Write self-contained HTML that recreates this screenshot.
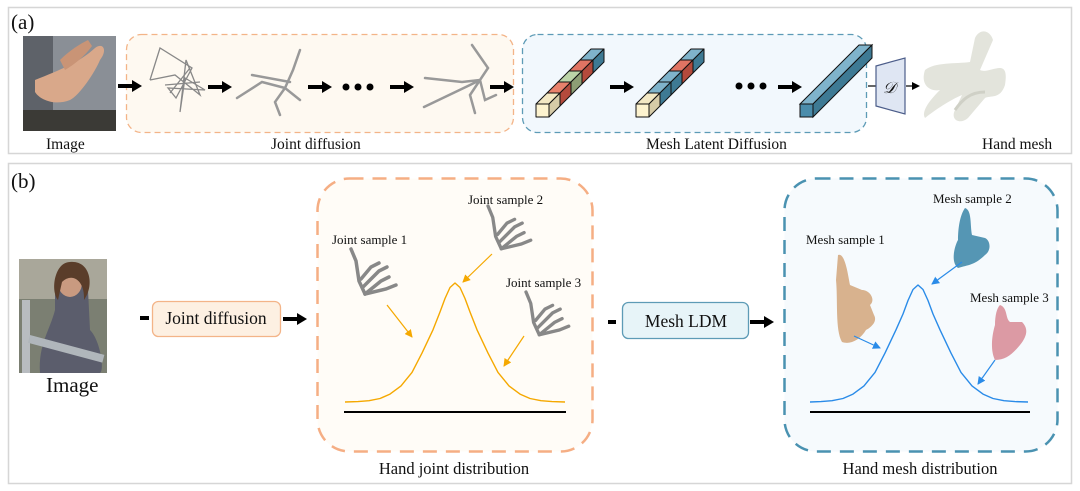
<!DOCTYPE html>
<html><head><meta charset="utf-8"><style>
html,body{margin:0;padding:0;background:#fff;}
svg{display:block;}
text{font-family:"Liberation Serif",serif;fill:#111;}
</style></head><body>
<svg width="1080" height="491" viewBox="0 0 1080 491" xmlns="http://www.w3.org/2000/svg">
<defs>
<marker id="ab" markerWidth="8" markerHeight="8" refX="6" refY="4" orient="auto" markerUnits="userSpaceOnUse"><path d="M0,0 L8,4 L0,8 z" fill="#000"/></marker>
<marker id="ao" markerWidth="8" markerHeight="8" refX="7" refY="4" orient="auto" markerUnits="userSpaceOnUse"><path d="M0,0 L8,4 L0,8 z" fill="#f5a800"/></marker>
<marker id="abl" markerWidth="8" markerHeight="8" refX="7" refY="4" orient="auto" markerUnits="userSpaceOnUse"><path d="M0,0 L8,4 L0,8 z" fill="#2a8be8"/></marker>
<g id="arr"><rect x="0" y="-2" width="16" height="4" fill="#000"/><path d="M14,-6 L24,0 L14,6 z" fill="#000"/></g>
<g id="skel" stroke="#888" stroke-width="3.5" fill="none" stroke-linecap="round">
<path d="M0,0 L5,12 L8,32 L14,45"/><path d="M14,45 L30,32 L38,28"/><path d="M14,45 L35,40 L45,36"/><path d="M12,38 L28,22 L36,18"/><path d="M10,30 L20,18 L28,14"/>
</g>
</defs>

<!-- panel a -->
<rect x="8.5" y="7.5" width="1063" height="146" fill="#fff" stroke="#d6d6d6" stroke-width="1.5"/>
<text x="11" y="29" font-size="21">(a)</text>
<rect x="23" y="36" width="93" height="95" fill="#8a8f96"/>
<rect x="23" y="36" width="30" height="95" fill="#5e6269"/>
<rect x="23" y="110" width="93" height="21" fill="#3b3a36"/>
<path d="M35,80 C60,70 80,62 95,48 C103,42 108,50 100,60 C95,72 80,95 70,100 C55,106 40,100 35,92 z" fill="#d9a88a"/>
<path d="M60,60 C70,50 80,44 88,40 L92,46 C85,56 75,64 65,70 z" fill="#c99476"/>
<text x="46" y="149" font-size="15.5">Image</text>
<rect x="126.5" y="34.5" width="387" height="98" rx="15" fill="#fef9f1" stroke="#f3b488" stroke-width="1.3" stroke-dasharray="6,4"/>
<g stroke="#888" stroke-width="1.3" fill="none">
<path d="M150,80 L160,48 L192,68 L176,98 L168,88 L205,90 L185,78 L180,112 L186,60 L200,95 L175,75 L150,80"/>
<path d="M165,85 L200,82 M170,93 L190,68"/>
</g>
<g stroke="#999" stroke-width="2.5" fill="none" stroke-linecap="round">
<path d="M237,98 L262,82 L285,88 L293,70 L300,50 M285,88 L300,100 M285,88 L275,102 L280,115 M252,75 L290,82"/>
</g>
<g stroke="#999" stroke-width="2.5" fill="none" stroke-linecap="round">
<path d="M424,107 L470,85 L480,80 L488,68 L472,45 M480,80 L462,82 L425,78 M480,80 L470,95 L475,113 M480,80 L485,100 L496,95"/>
</g>
<use href="#arr" x="118" y="86"/>
<use href="#arr" x="208" y="87"/>
<use href="#arr" x="308" y="87"/>
<circle cx="346" cy="87" r="3.5"/><circle cx="358" cy="87" r="3.5"/><circle cx="370" cy="87" r="3.5"/>
<use href="#arr" x="390" y="87"/>
<use href="#arr" x="490" y="87"/>
<text x="271" y="149" font-size="15.5">Joint diffusion</text>
<rect x="522.5" y="34.5" width="344" height="98" rx="15" fill="#f2f8fd" stroke="#5d9bb6" stroke-width="1.3" stroke-dasharray="6,4"/>
<!-- bar 1 -->
<g stroke="#111" stroke-width="1" stroke-linejoin="round">
<polygon points="536,104 547,93 560,93 549,104" fill="#f3e8c4"/><polygon points="549,104 560,93 560,106 549,117" fill="#d6cba8"/>
<polygon points="547,93 558,82 571,82 560,93" fill="#e8816c"/><polygon points="560,93 571,82 571,95 560,106" fill="#b44a3c"/>
<polygon points="558,82 569,71 582,71 571,82" fill="#bcd4a8"/><polygon points="571,82 582,71 582,84 571,95" fill="#8d9e75"/>
<polygon points="569,71 580,60 593,60 582,71" fill="#e07463"/><polygon points="582,71 593,60 593,73 582,84" fill="#b44a3c"/>
<polygon points="580,60 591,49 604,49 593,60" fill="#7fb3cb"/><polygon points="593,60 604,49 604,62 593,73" fill="#3e7a94"/>
<rect x="536" y="104" width="13" height="13" fill="#fdf3cf"/>
</g>
<!-- bar 2 -->
<g stroke="#111" stroke-width="1" stroke-linejoin="round" transform="translate(100,0)">
<polygon points="536,104 547,93 560,93 549,104" fill="#f3e8c4"/><polygon points="549,104 560,93 560,106 549,117" fill="#d6cba8"/>
<polygon points="547,93 558,82 571,82 560,93" fill="#7fb3cb"/><polygon points="560,93 571,82 571,95 560,106" fill="#3e7a94"/>
<polygon points="558,82 569,71 582,71 571,82" fill="#7fb3cb"/><polygon points="571,82 582,71 582,84 571,95" fill="#3e7a94"/>
<polygon points="569,71 580,60 593,60 582,71" fill="#e07463"/><polygon points="582,71 593,60 593,73 582,84" fill="#b44a3c"/>
<polygon points="580,60 591,49 604,49 593,60" fill="#7fb3cb"/><polygon points="593,60 604,49 604,62 593,73" fill="#3e7a94"/>
<rect x="536" y="104" width="13" height="13" fill="#fdf3cf"/>
</g>
<!-- bar 3 -->
<g stroke="#111" stroke-width="1">
<path d="M800,104 L859,45 L872,45 L813,104z" fill="#7fb3cb"/>
<path d="M813,104 L872,45 L872,58 L813,117z" fill="#3e7a94"/>
<path d="M800,104 L813,104 L813,117 L800,117z" fill="#4a8cab"/>
</g>
<use href="#arr" x="610" y="87"/>
<circle cx="739" cy="86" r="3.5"/><circle cx="751" cy="86" r="3.5"/><circle cx="763" cy="86" r="3.5"/>
<use href="#arr" x="778" y="87"/>
<line x1="868" y1="86" x2="876" y2="86" stroke="#000" stroke-width="1.2"/>
<text x="646" y="149" font-size="15.5">Mesh Latent Diffusion</text>
<path d="M876,66 L905,58 L905,114 L876,106z" fill="#dfe6f3" stroke="#4c5d8a" stroke-width="1.2"/>
<text x="883" y="93" font-size="16" font-style="italic">𝒟</text>
<line x1="906" y1="86" x2="918" y2="86" stroke="#000" stroke-width="1.2" marker-end="url(#ab)"/>
<path d="M925,70 C935,62 955,64 970,62 L975,38 C980,28 990,30 993,40 L980,70 C990,75 1010,55 1005,85 C1000,100 990,95 985,98 L968,118 C960,125 950,120 955,110 L962,95 C950,100 935,110 925,118 C920,110 935,95 940,90 C930,92 920,85 925,70z" fill="#e3e4dc"/>
<path d="M955,110 C962,100 970,92 985,92" stroke="#cfd0c6" stroke-width="3" fill="none"/>
<text x="982" y="149" font-size="15.5">Hand mesh</text>

<!-- panel b -->
<rect x="8.5" y="163.5" width="1063" height="320" fill="#fff" stroke="#d6d6d6" stroke-width="1.5"/>
<text x="11" y="188" font-size="21">(b)</text>
<rect x="19" y="259" width="88" height="114" fill="#7b7f72"/>
<rect x="19" y="259" width="88" height="40" fill="#a9a79a"/>
<path d="M55,290 C60,270 85,268 88,290 L90,330 C100,340 105,370 100,373 L40,373 C38,345 50,330 55,310z" fill="#5b5d6c"/>
<ellipse cx="70" cy="283" rx="12" ry="14" fill="#c99a80"/>
<path d="M70,262 C55,262 50,290 58,300 L62,282 C72,272 85,280 84,300 C95,285 90,260 70,262z" fill="#5a3d2a"/>
<rect x="22" y="300" width="8" height="73" fill="#b8bcc0"/>
<rect x="30" y="335" width="77" height="8" fill="#b0b6bb" transform="rotate(15 30 335)"/>
<text x="46" y="392" font-size="21">Image</text>
<rect x="140" y="316" width="9" height="4" fill="#000"/>
<rect x="152.5" y="301.5" width="128" height="35" rx="6" fill="#fdf0e2" stroke="#f3b488" stroke-width="1.3"/>
<text x="216" y="324" font-size="17.5" text-anchor="middle">Joint diffusion</text>
<use href="#arr" x="283" y="319"/>

<rect x="317.5" y="178.5" width="275" height="273" rx="32" fill="#fffcf7" stroke="#f5ae84" stroke-width="2.5" stroke-dasharray="14,9"/>
<text x="332" y="244" font-size="13">Joint sample 1</text>
<text x="468" y="204" font-size="13">Joint sample 2</text>
<text x="506" y="287" font-size="13">Joint sample 3</text>
<use href="#skel" x="351" y="249"/>
<use href="#skel" transform="translate(488,206) scale(0.95)"/>
<use href="#skel" transform="translate(526,292) scale(0.95)"/>
<line x1="387" y1="305" x2="412" y2="337" stroke="#f5a800" stroke-width="1.2" marker-end="url(#ao)"/>
<line x1="492" y1="254" x2="463" y2="282" stroke="#f5a800" stroke-width="1.2" marker-end="url(#ao)"/>
<line x1="524" y1="336" x2="504" y2="366" stroke="#f5a800" stroke-width="1.2" marker-end="url(#ao)"/>
<polyline fill="none" stroke="#f5a800" stroke-width="1.4" stroke-linejoin="round" points="345,402 358,401.6 369,400.7 380,398.5 390,394.1 401,385.9 412,372.4 422,353.1 433,329.8 440,312 445,298.5 450,287.5 455,283 460,287.5 465,298.5 470,312 477,329.8 488,353.1 498,372.4 509,385.9 520,394.1 530,398.5 541,400.7 552,401.6 565,402"/>
<line x1="344" y1="412" x2="566" y2="412" stroke="#000" stroke-width="2"/>
<text x="454" y="474" font-size="16.5" text-anchor="middle">Hand joint distribution</text>

<line x1="608" y1="322" x2="616" y2="322" stroke="#000" stroke-width="4"/>
<rect x="622.5" y="302.5" width="126" height="36" rx="6" fill="#e7f4f8" stroke="#5d9bb6" stroke-width="1.3"/>
<text x="686" y="327" font-size="17.5" text-anchor="middle">Mesh LDM</text>
<use href="#arr" x="750" y="322"/>

<rect x="784.5" y="178.5" width="273" height="273" rx="32" fill="#f6fafd" stroke="#4a92b1" stroke-width="2.5" stroke-dasharray="14,9"/>
<text x="806" y="244" font-size="13">Mesh sample 1</text>
<text x="933" y="203" font-size="13">Mesh sample 2</text>
<text x="970" y="302" font-size="13">Mesh sample 3</text>
<path d="M838,255 C845,252 848,275 850,285 L862,290 C870,290 876,300 870,305 L874,315 C878,322 870,328 866,330 C860,340 850,345 842,342 C835,330 838,300 836,280 z" fill="#d8b28e"/>
<path d="M965,208 C972,210 970,225 972,235 L985,238 C990,240 992,250 985,255 C975,265 968,265 958,268 C950,262 955,245 958,240 C958,228 960,215 965,208z" fill="#5596b4"/>
<path d="M1000,305 C1008,308 1005,318 1010,322 L1022,322 C1028,328 1028,335 1020,345 C1012,355 1005,360 995,360 C990,350 992,335 995,325 C995,315 997,308 1000,305z" fill="#dc9aa4"/>
<line x1="854" y1="336" x2="880" y2="348" stroke="#2a8be8" stroke-width="1.2" marker-end="url(#abl)"/>
<line x1="962" y1="262" x2="932" y2="284" stroke="#2a8be8" stroke-width="1.2" marker-end="url(#abl)"/>
<line x1="995" y1="360" x2="978" y2="384" stroke="#2a8be8" stroke-width="1.2" marker-end="url(#abl)"/>
<polyline fill="none" stroke="#2a8be8" stroke-width="1.4" stroke-linejoin="round" points="810,402 821,401.6 832,400.7 843,398.5 853,394.1 864,385.9 875,372.4 885,353.1 896,329.8 903,314 908,300.5 913,289.5 918,285 923,289.5 928,300.5 933,314 940,329.8 951,353.1 961,372.4 972,385.9 983,394.1 993,398.5 1004,400.7 1015,401.6 1028,402"/>
<line x1="810" y1="412" x2="1030" y2="412" stroke="#000" stroke-width="2"/>
<text x="920" y="474" font-size="16.5" text-anchor="middle">Hand mesh distribution</text>
</svg>
</body></html>
